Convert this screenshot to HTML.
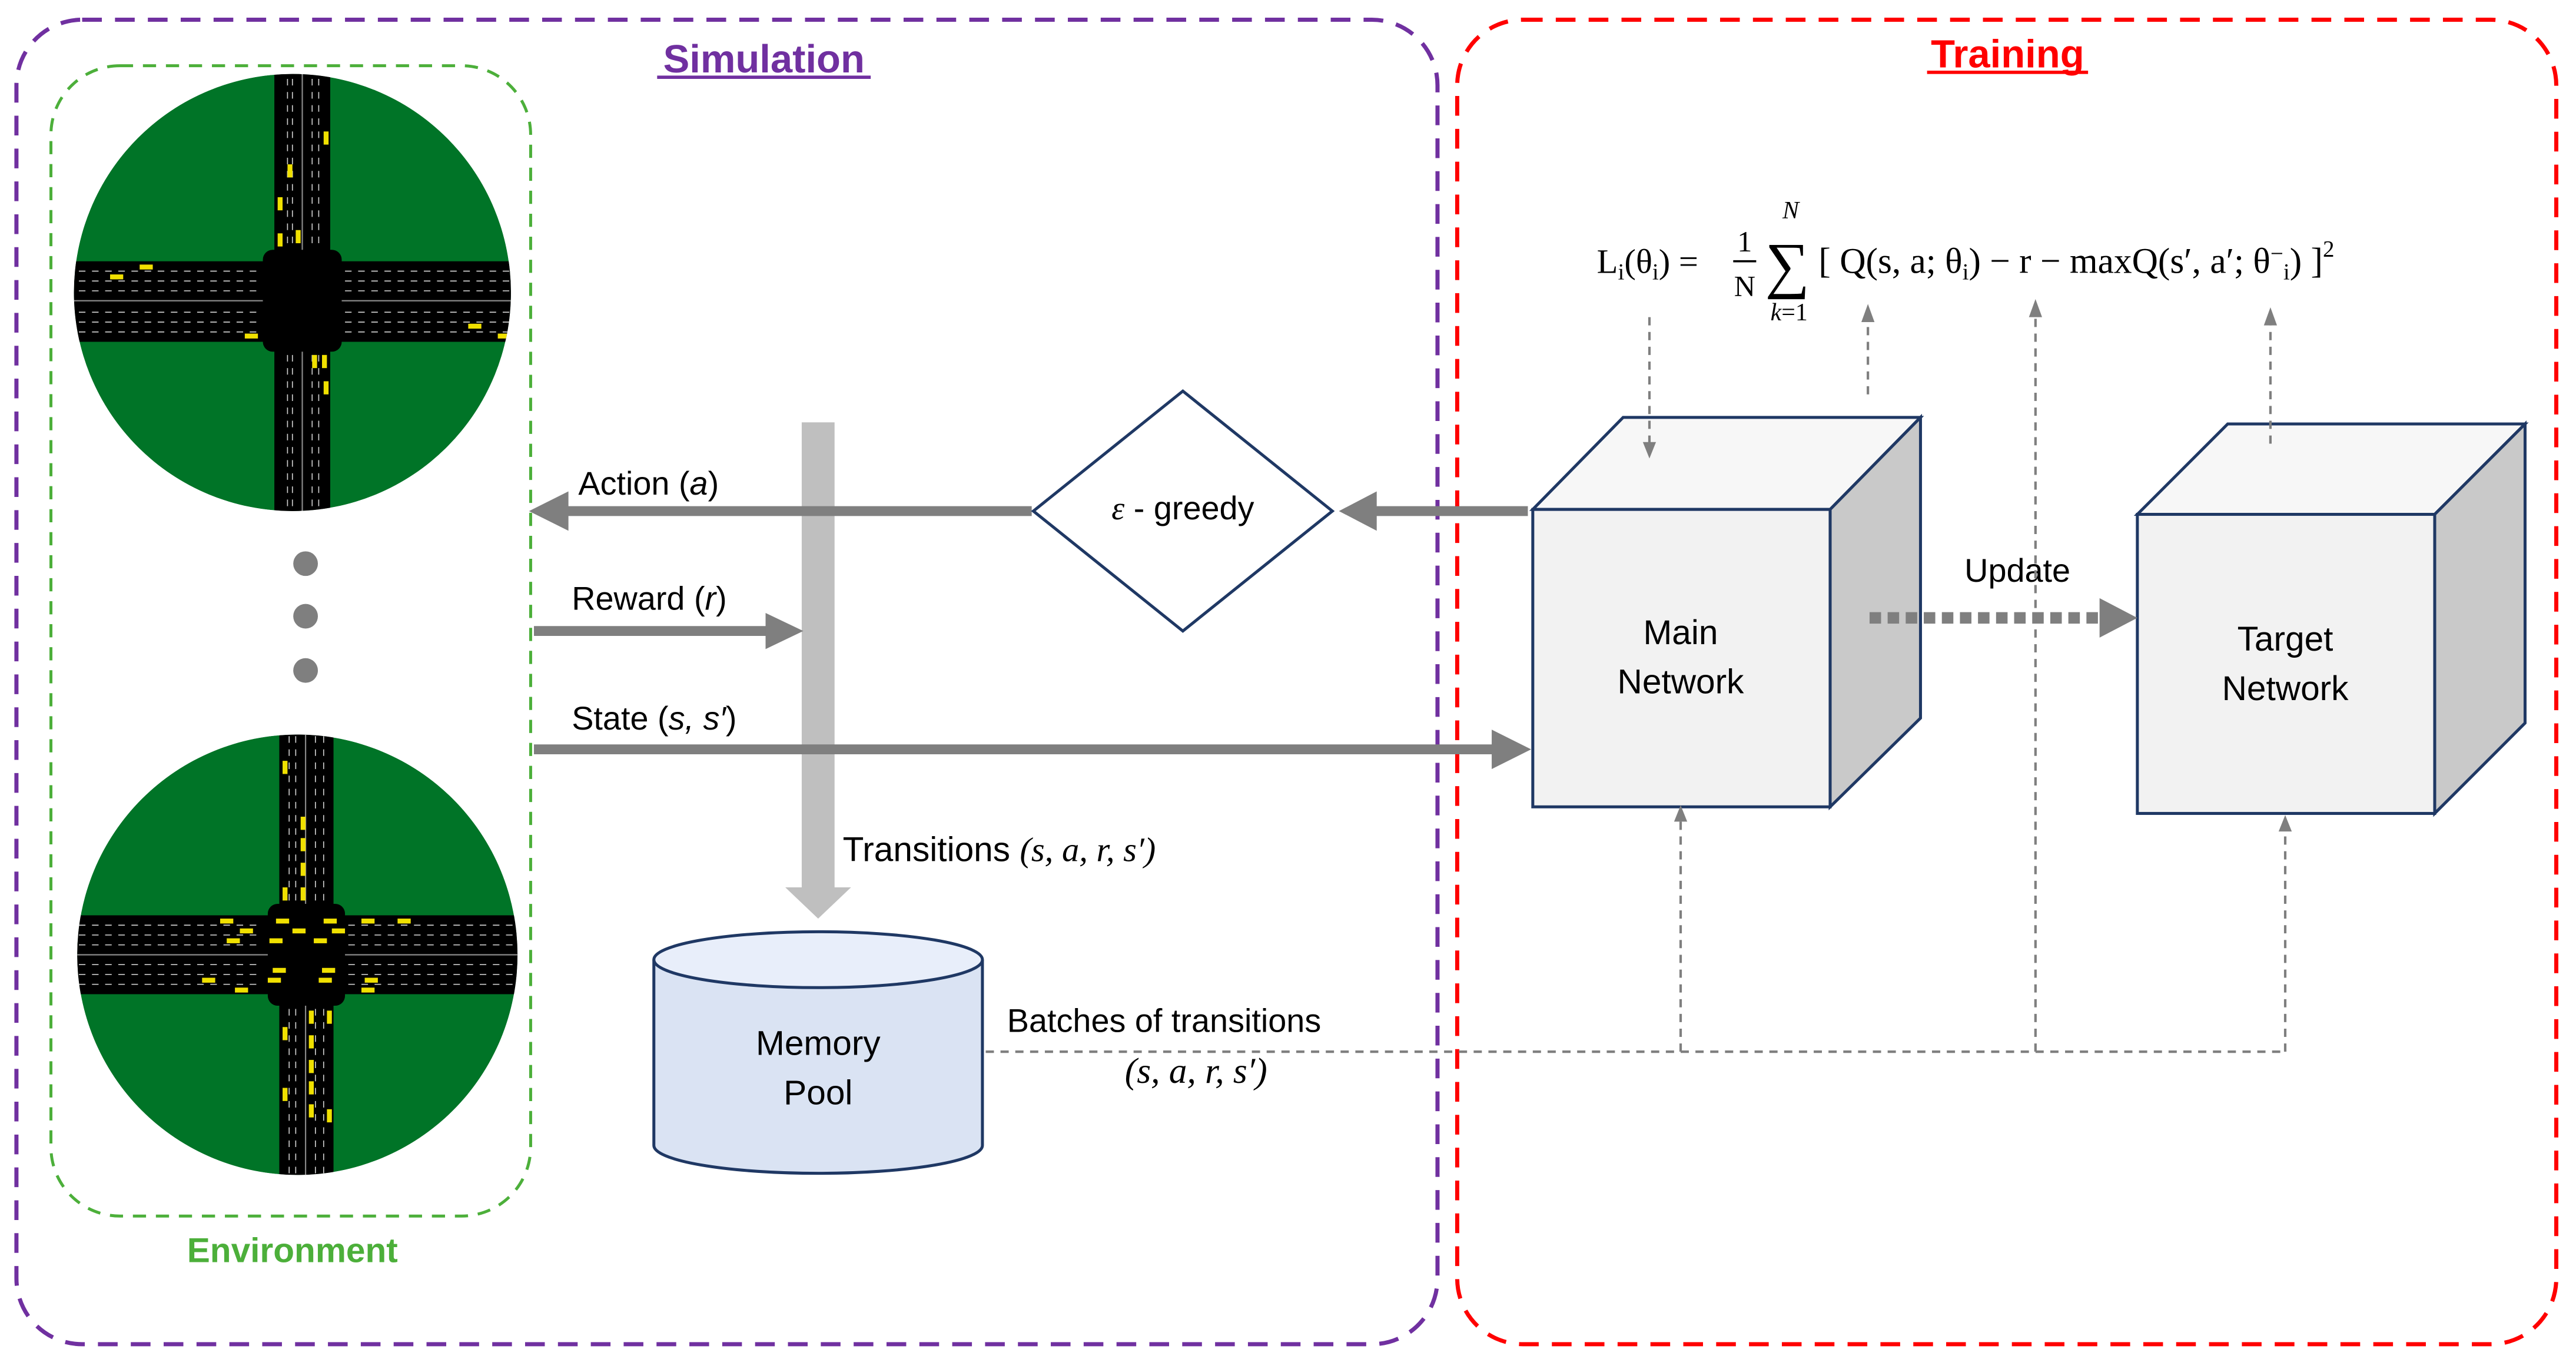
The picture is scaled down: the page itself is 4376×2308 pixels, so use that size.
<!DOCTYPE html>
<html><head><meta charset="utf-8"><style>
html,body{margin:0;padding:0;background:#fff;}
svg{display:block;}
.s{font-family:"Liberation Sans",sans-serif;}
.f{font-family:"Liberation Serif","DejaVu Serif",serif;}
</style></head><body>
<svg width="4376" height="2308" viewBox="0 0 1568 827" xmlns="http://www.w3.org/2000/svg">
<defs>
<clipPath id="c1"><circle cx="178" cy="178" r="133"/></clipPath>
<clipPath id="c2"><circle cx="181" cy="581" r="134"/></clipPath>
</defs>
<rect width="1568" height="827" fill="#fff"/>
<rect x="10" y="12" width="865" height="806" rx="40" fill="none" stroke="#7030a0" stroke-width="2.5" stroke-dasharray="12,8"/>
<rect x="887" y="12" width="669" height="806" rx="40" fill="none" stroke="#ff0000" stroke-width="2.5" stroke-dasharray="12,8"/>
<text class="s" x="465" y="44" text-anchor="middle" font-size="24" font-weight="bold" fill="#7030a0">Simulation</text>
<line x1="400" y1="47" x2="530" y2="47" stroke="#7030a0" stroke-width="2"/>
<text class="s" x="1222" y="41" text-anchor="middle" font-size="24" font-weight="bold" fill="#ff0000">Training</text>
<line x1="1173" y1="44" x2="1271" y2="44" stroke="#ff0000" stroke-width="2"/>
<rect x="31" y="40" width="292" height="700" rx="42" fill="none" stroke="#4caf3a" stroke-width="1.8" stroke-dasharray="8,6"/>
<text class="s" x="178" y="768" text-anchor="middle" font-size="21" font-weight="bold" fill="#4caf3a">Environment</text>
<g clip-path="url(#c1)">
<circle cx="178" cy="178" r="133" fill="#007427"/>
<rect x="167" y="40" width="34" height="280" fill="#000"/>
<rect x="40" y="159" width="280" height="49" fill="#000"/>
<rect x="160" y="152" width="48" height="62" rx="6" fill="#000"/>
<line x1="184" y1="40" x2="184" y2="152" stroke="#888" stroke-width="0.8"/>
<line x1="184" y1="214" x2="184" y2="320" stroke="#888" stroke-width="0.8"/>
<line x1="40" y1="183" x2="160" y2="183" stroke="#888" stroke-width="0.8"/>
<line x1="208" y1="183" x2="320" y2="183" stroke="#888" stroke-width="0.8"/>
<g stroke="#ccc" stroke-width="0.6" stroke-dasharray="4,4">
<line x1="175" y1="40" x2="175" y2="150"/><line x1="178" y1="40" x2="178" y2="150"/><line x1="190" y1="40" x2="190" y2="150"/><line x1="194" y1="40" x2="194" y2="150"/>
<line x1="175" y1="216" x2="175" y2="320"/><line x1="178" y1="216" x2="178" y2="320"/><line x1="190" y1="216" x2="190" y2="320"/><line x1="194" y1="216" x2="194" y2="320"/>
<line x1="40" y1="165" x2="158" y2="165"/><line x1="40" y1="171" x2="158" y2="171"/><line x1="40" y1="177" x2="158" y2="177"/><line x1="40" y1="190" x2="158" y2="190"/><line x1="40" y1="196" x2="158" y2="196"/><line x1="40" y1="202" x2="158" y2="202"/>
<line x1="210" y1="165" x2="320" y2="165"/><line x1="210" y1="171" x2="320" y2="171"/><line x1="210" y1="177" x2="320" y2="177"/><line x1="210" y1="190" x2="320" y2="190"/><line x1="210" y1="196" x2="320" y2="196"/><line x1="210" y1="202" x2="320" y2="202"/>
</g>
<g fill="#f0e000">
<rect x="197" y="80" width="3" height="8"/><rect x="175" y="100" width="3" height="8"/><rect x="169" y="120" width="3" height="8"/><rect x="169" y="142" width="3" height="8"/><rect x="180" y="140" width="3" height="8"/>
<rect x="85" y="161" width="8" height="3"/><rect x="67" y="167" width="8" height="3"/><rect x="149" y="203" width="8" height="3"/><rect x="285" y="197" width="8" height="3"/><rect x="303" y="203" width="8" height="3"/>
<rect x="190" y="216" width="3" height="8"/><rect x="196" y="216" width="3" height="8"/><rect x="197" y="232" width="3" height="8"/>
</g>
</g>
<circle cx="186" cy="343" r="7.5" fill="#7f7f7f"/>
<circle cx="186" cy="375" r="7.5" fill="#7f7f7f"/>
<circle cx="186" cy="408" r="7.5" fill="#7f7f7f"/>
<g clip-path="url(#c2)">
<circle cx="181" cy="581" r="134" fill="#007427"/>
<rect x="170" y="440" width="33" height="290" fill="#000"/>
<rect x="40" y="557" width="290" height="48" fill="#000"/>
<rect x="163" y="550" width="47" height="62" rx="6" fill="#000"/>
<line x1="186" y1="440" x2="186" y2="550" stroke="#888" stroke-width="0.8"/>
<line x1="186" y1="612" x2="186" y2="730" stroke="#888" stroke-width="0.8"/>
<line x1="40" y1="581" x2="163" y2="581" stroke="#888" stroke-width="0.8"/>
<line x1="210" y1="581" x2="330" y2="581" stroke="#888" stroke-width="0.8"/>
<g stroke="#ccc" stroke-width="0.6" stroke-dasharray="4,4">
<line x1="176" y1="440" x2="176" y2="548"/><line x1="180" y1="440" x2="180" y2="548"/><line x1="192" y1="440" x2="192" y2="548"/><line x1="197" y1="440" x2="197" y2="548"/>
<line x1="176" y1="614" x2="176" y2="730"/><line x1="180" y1="614" x2="180" y2="730"/><line x1="192" y1="614" x2="192" y2="730"/><line x1="197" y1="614" x2="197" y2="730"/>
<line x1="40" y1="563" x2="160" y2="563"/><line x1="40" y1="569" x2="160" y2="569"/><line x1="40" y1="575" x2="160" y2="575"/><line x1="40" y1="587" x2="160" y2="587"/><line x1="40" y1="593" x2="160" y2="593"/><line x1="40" y1="599" x2="160" y2="599"/>
<line x1="212" y1="563" x2="330" y2="563"/><line x1="212" y1="569" x2="330" y2="569"/><line x1="212" y1="575" x2="330" y2="575"/><line x1="212" y1="587" x2="330" y2="587"/><line x1="212" y1="593" x2="330" y2="593"/><line x1="212" y1="599" x2="330" y2="599"/>
</g>
<g fill="#f0e000">
<rect x="172" y="463" width="3" height="8"/><rect x="183" y="497" width="3" height="8"/><rect x="183" y="510" width="3" height="8"/><rect x="183" y="525" width="3" height="8"/><rect x="172" y="540" width="3" height="8"/><rect x="183" y="540" width="3" height="8"/>
<rect x="134" y="559" width="8" height="3"/><rect x="146" y="565" width="8" height="3"/><rect x="138" y="571" width="8" height="3"/><rect x="168" y="559" width="8" height="3"/><rect x="178" y="565" width="8" height="3"/><rect x="164" y="571" width="8" height="3"/><rect x="197" y="559" width="8" height="3"/><rect x="202" y="565" width="8" height="3"/><rect x="191" y="571" width="8" height="3"/><rect x="220" y="559" width="8" height="3"/><rect x="242" y="559" width="8" height="3"/>
<rect x="166" y="589" width="8" height="3"/><rect x="196" y="589" width="8" height="3"/><rect x="163" y="595" width="8" height="3"/><rect x="194" y="595" width="8" height="3"/><rect x="123" y="595" width="8" height="3"/><rect x="143" y="601" width="8" height="3"/><rect x="222" y="595" width="8" height="3"/><rect x="220" y="601" width="8" height="3"/>
<rect x="188" y="615" width="3" height="8"/><rect x="199" y="615" width="3" height="8"/><rect x="172" y="625" width="3" height="8"/><rect x="188" y="630" width="3" height="8"/><rect x="188" y="645" width="3" height="8"/><rect x="188" y="658" width="3" height="8"/><rect x="172" y="662" width="3" height="8"/><rect x="188" y="672" width="3" height="8"/><rect x="199" y="675" width="3" height="8"/>
</g>
</g>
<polygon points="488,257 508,257 508,540 518,540 498,559 478,540 488,540" fill="#bfbfbf"/>
<line x1="628" y1="311" x2="340" y2="311" stroke="#7f7f7f" stroke-width="6"/>
<polygon points="322,311 346,299 346,323" fill="#7f7f7f"/>
<text class="s" x="352" y="301" font-size="20" fill="#000">Action (<tspan font-style="italic">a</tspan>)</text>
<line x1="325" y1="384" x2="470" y2="384" stroke="#7f7f7f" stroke-width="6"/>
<polygon points="489,384 466,373 466,395" fill="#7f7f7f"/>
<text class="s" x="348" y="371" font-size="20" fill="#000">Reward (<tspan font-style="italic">r</tspan>)</text>
<line x1="325" y1="456" x2="912" y2="456" stroke="#7f7f7f" stroke-width="6"/>
<polygon points="932,456 908,444 908,468" fill="#7f7f7f"/>
<text class="s" x="348" y="444" font-size="20" fill="#000">State (<tspan font-style="italic">s, s′</tspan>)</text>
<polygon points="720,238 811,311 720,384 629,311" fill="#fff" stroke="#1f3864" stroke-width="1.8"/>
<text class="s" x="720" y="316" text-anchor="middle" font-size="20" fill="#000"><tspan font-style="italic" style="font-family:'Liberation Serif',serif">ε</tspan> - greedy</text>
<line x1="930" y1="311" x2="835" y2="311" stroke="#7f7f7f" stroke-width="6"/>
<polygon points="815,311 838,299 838,323" fill="#7f7f7f"/>
<polygon points="933,310 988,254 1169,254 1114,310" fill="#f7f7f7" stroke="#1f3864" stroke-width="1.8"/>
<polygon points="1114,310 1169,254 1169,437 1114,491" fill="#c9c9c9" stroke="#1f3864" stroke-width="1.8"/>
<rect x="933" y="310" width="181" height="181" fill="#f2f2f2" stroke="#1f3864" stroke-width="1.8"/>
<text class="s" x="1023" y="392" text-anchor="middle" font-size="21">Main</text>
<text class="s" x="1023" y="422" text-anchor="middle" font-size="21">Network</text>
<polygon points="1301,313 1356,258 1537,258 1482,313" fill="#f7f7f7" stroke="#1f3864" stroke-width="1.8"/>
<polygon points="1482,313 1537,258 1537,440 1482,495" fill="#c9c9c9" stroke="#1f3864" stroke-width="1.8"/>
<rect x="1301" y="313" width="181" height="182" fill="#f2f2f2" stroke="#1f3864" stroke-width="1.8"/>
<text class="s" x="1391" y="396" text-anchor="middle" font-size="21">Target</text>
<text class="s" x="1391" y="426" text-anchor="middle" font-size="21">Network</text>
<line x1="1138" y1="376" x2="1282" y2="376" stroke="#7f7f7f" stroke-width="7" stroke-dasharray="7,4"/>
<polygon points="1301,376 1278,364 1278,388" fill="#7f7f7f"/>
<text class="s" x="1228" y="354" text-anchor="middle" font-size="20">Update</text>
<path d="M398,584 L398,697 A100,17 0 0 0 598,697 L598,584" fill="#dae3f3" stroke="#1f3864" stroke-width="1.8"/>
<ellipse cx="498" cy="584" rx="100" ry="17" fill="#e8eefa" stroke="#1f3864" stroke-width="1.8"/>
<text class="s" x="498" y="642" text-anchor="middle" font-size="21">Memory</text>
<text class="s" x="498" y="672" text-anchor="middle" font-size="21">Pool</text>
<text class="s" x="513" y="524" font-size="21">Transitions <tspan style="font-family:'Liberation Serif',serif" font-style="italic">(s, a, r, s′)</tspan></text>
<text class="s" x="613" y="628" font-size="20">Batches of transitions</text>
<text class="f" x="728" y="659" text-anchor="middle" font-size="22" font-style="italic">(s, a, r, s′)</text>
<g stroke="#7f7f7f" stroke-width="1.5" stroke-dasharray="5,4" fill="none">
<polyline points="600,640 1391,640"/>
<line x1="1023" y1="640" x2="1023" y2="500"/>
<line x1="1239" y1="640" x2="1239" y2="192"/>
<line x1="1391" y1="640" x2="1391" y2="506"/>
<line x1="1004" y1="193" x2="1004" y2="270"/>
<line x1="1137" y1="240" x2="1137" y2="195"/>
<line x1="1382" y1="270" x2="1382" y2="197"/>
</g>
<g fill="#7f7f7f">
<polygon points="1023,490 1019,500 1027,500"/>
<polygon points="1239,182 1235,193 1243,193"/>
<polygon points="1391,496 1387,506 1395,506"/>
<polygon points="1004,279 1000,269 1008,269"/>
<polygon points="1137,185 1133,196 1141,196"/>
<polygon points="1382,187 1378,198 1386,198"/>
</g>
<g fill="#000">
<text class="f" x="972" y="166" font-size="21">L<tspan font-size="14" dy="4">i</tspan><tspan dy="-4">(θ</tspan><tspan font-size="14" dy="4">i</tspan><tspan dy="-4">) =</tspan></text>
<text class="f" x="1062" y="153" font-size="18" text-anchor="middle">1</text>
<line x1="1055" y1="159" x2="1069" y2="159" stroke="#000" stroke-width="1.3"/>
<text class="f" x="1062" y="180" font-size="18" text-anchor="middle">N</text>
<text class="f" x="1088" y="174" font-size="38" text-anchor="middle">∑</text>
<text class="f" x="1090" y="133" font-size="15" font-style="italic" text-anchor="middle">N</text>
<text class="f" x="1089" y="195" font-size="15" text-anchor="middle"><tspan font-style="italic">k</tspan>=1</text>
<text class="f" x="1107" y="166" font-size="22">[ Q(s, a; θ<tspan font-size="14" dy="4">i</tspan><tspan dy="-4">) − r  − maxQ(s′, a′; θ</tspan><tspan font-size="14" dy="-7">−</tspan><tspan font-size="14" dy="11">i</tspan><tspan dy="-4">) ]</tspan><tspan font-size="14" dy="-10">2</tspan></text>
</g>
</svg>
</body></html>
